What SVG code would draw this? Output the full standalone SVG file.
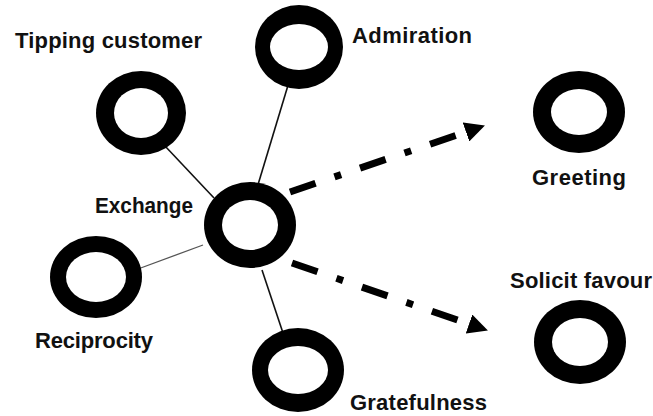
<svg xmlns="http://www.w3.org/2000/svg" width="653" height="416" viewBox="0 0 653 416">
<style>
  .outer{fill:#000}
  .inner{fill:#fff}
  .lbl{font-family:"Liberation Sans",Arial,sans-serif;font-weight:bold;font-size:22px;fill:#111}
  .link{stroke:#111;stroke-width:1.6;fill:none}
  .flow{stroke:#000;stroke-width:7;fill:none;stroke-dasharray:27 20 7 20}
</style>
<defs>
  <marker id="ah" markerUnits="userSpaceOnUse" markerWidth="20" markerHeight="20" refX="0" refY="10" orient="auto">
    <path d="M0,0 L20,10 L0,20 Z" fill="#000"/>
  </marker>
</defs>
<rect width="653" height="416" fill="#fff"/>
<g id="connectors">
  <line class="link" x1="165" y1="146" x2="214" y2="198"/>
  <line class="link" x1="289" y1="82" x2="257" y2="188"/>
  <line class="link" x1="138" y1="269" x2="203" y2="245" style="stroke:#555;stroke-width:1.3"/>
  <line class="link" x1="262" y1="270" x2="284" y2="336"/>
  <path class="flow" d="M290,192 L466,132" marker-end="url(#ah)"/>
  <path class="flow" d="M292,263 L469,324" marker-end="url(#ah)"/>
</g>
<g id="node-tipping">
  <ellipse class="outer" cx="141" cy="113" rx="45" ry="42"/>
  <ellipse class="inner" cx="141" cy="113" rx="27" ry="25"/>
  <text class="lbl" x="15" y="48" textLength="187" lengthAdjust="spacing">Tipping customer</text>
</g>
<g id="node-admiration">
  <ellipse class="outer" cx="299" cy="47" rx="44" ry="42"/>
  <ellipse class="inner" cx="299" cy="47" rx="29" ry="23"/>
  <text class="lbl" x="352" y="43" textLength="120" lengthAdjust="spacing">Admiration</text>
</g>
<g id="node-exchange">
  <ellipse class="outer" cx="250" cy="225" rx="46" ry="43"/>
  <ellipse class="inner" cx="250" cy="225" rx="28" ry="25"/>
  <text class="lbl" x="95" y="213" textLength="98" lengthAdjust="spacingAndGlyphs">Exchange</text>
</g>
<g id="node-reciprocity">
  <ellipse class="outer" cx="96" cy="277" rx="46" ry="41"/>
  <ellipse class="inner" cx="96" cy="277" rx="30" ry="25"/>
  <text class="lbl" x="35" y="348" textLength="118" lengthAdjust="spacing">Reciprocity</text>
</g>
<g id="node-gratefulness">
  <ellipse class="outer" cx="298" cy="370" rx="46" ry="42"/>
  <ellipse class="inner" cx="298" cy="370" rx="30" ry="24"/>
  <text class="lbl" x="350" y="410" textLength="137" lengthAdjust="spacing">Gratefulness</text>
</g>
<g id="node-greeting">
  <ellipse class="outer" cx="579" cy="112" rx="46" ry="41"/>
  <ellipse class="inner" cx="579" cy="112" rx="28" ry="23"/>
  <text class="lbl" x="532" y="185" textLength="94" lengthAdjust="spacing">Greeting</text>
</g>
<g id="node-solicit">
  <ellipse class="outer" cx="580" cy="342" rx="46" ry="42"/>
  <ellipse class="inner" cx="580" cy="342" rx="28" ry="24"/>
  <text class="lbl" x="510" y="288" textLength="142" lengthAdjust="spacing">Solicit favour</text>
</g>
</svg>
